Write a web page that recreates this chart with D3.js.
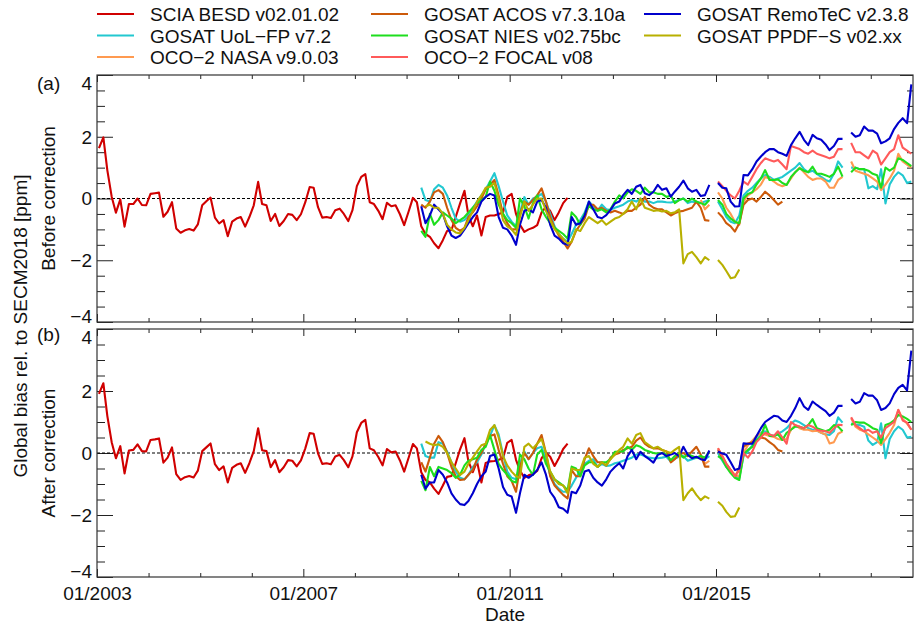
<!DOCTYPE html>
<html>
<head>
<meta charset="utf-8">
<script src="https://cdn.jsdelivr.net/npm/d3@7"></script>
<style>
body { margin: 0; background: #fff; }
svg text { font-family: "Liberation Sans", Arial, Helvetica, sans-serif; font-size: 19px; fill: #111; }
</style>
</head>
<body>
<svg id="chart" width="915" height="624"></svg>
<script>
// series names, colours and first month, in legend order
var seriesNames = ["SCIA BESD v02.01.02", "GOSAT UoL\u2212FP v7.2", "OCO\u22122 NASA v9.0.03",
                   "GOSAT ACOS v7.3.10a", "GOSAT NIES v02.75bc", "OCO\u22122 FOCAL v08",
                   "GOSAT RemoTeC v2.3.8", "GOSAT PPDF\u2212S v02.xx"];
var seriesColors = ["#d00000", "#22c8d0", "#ff9a50", "#cc5a0a", "#1ede1e", "#ff5a5a", "#0000cc", "#b8b000"];
var seriesStart = ["2003-01", "2009-04", "2014-09", "2009-04", "2009-04", "2015-01", "2009-04", "2009-05"];

var xTickLabels = ["01/2003", "01/2007", "01/2011", "01/2015"];
var yTickValues = [-4, -2, 0, 2, 4];

// monthly global bias [ppm], before correction (panel a)
var sciaBefore = [1.63, 1.98, 0.92, 0.06, -0.46, -0.03, -0.91, -0.18, -0.18, 0.0,
  -0.21, -0.22, 0.15, 0.17, 0.19, -0.59, -0.43, -0.12, -0.97, -1.11,
  -1.03, -0.99, -1.04, -0.84, -0.22, -0.08, 0.03, -0.62, -0.81, -0.70,
  -1.22, -0.75, -0.65, -0.60, -0.91, -0.60, -0.22, 0.54, -0.18, -0.22,
  -0.73, -0.50, -0.89, -0.73, -0.50, -0.53, -0.70, -0.51, -0.12, 0.37,
  0.35, -0.28, -0.62, -0.60, -0.63, -0.38, -0.33, -0.50, -0.73, -0.38,
  0.40, 0.70, 0.79, -0.12, -0.18, -0.40, -0.67, -0.14, -0.25, -0.22,
  -0.51, -0.86, -0.43, 0.02, -0.12, -0.9, -1.15, -1.24, -1.45, -1.61,
  -1.35, -1.05, -1.02, -0.6, -0.16, 0.25, -0.55, -0.9, -0.55, -1.2,
  -0.6, -0.55, -0.55, -0.5, -0.45, 0.05, 0.15, -0.5, -0.85, -1.08,
  -1.0, -0.95, -0.86, -0.45, -0.27, -0.4, -0.7, -0.45, -0.15, 0.02];
var uolBefore = [0.35, -0.05, -0.1, 0.3, 0.44, 0.35, 0.1, -0.3, -0.65, -0.75,
  -0.7, -0.55, -0.3, -0.1, 0.1, 0.3, 0.55, 0.82, 0.4, -0.1,
  -0.55, -0.75, -0.9, -0.45, 0.05, -0.2, 0.0, 0.05, 0.15, -0.1,
  -0.5, -0.9, -1.15, -1.3, -1.4, -1.15, -0.85, -0.7, -0.45, -0.1, -0.25, -0.4,
  -0.2, -0.35, -0.37, -0.3, -0.25, -0.2, -0.1, -0.05, -0.1, 0.0, -0.1, -0.1, -0.15,
  -0.1, -0.1, -0.12, -0.13, -0.1, -0.05, 0.0, -0.15, -0.1, -0.12, -0.15, -0.1, -0.05,
  null,
  -0.1, -0.35, -0.6, -0.75, -0.8, -0.55, 0.1, 0.25, 0.35, 0.5, 0.65, 0.76, 0.7, 0.6, 0.65,
  0.7, 0.8, 0.9, 1.0, 1.15, 0.95, 0.85, 0.9, 0.8, 0.7, 0.6, 0.55, 0.8, 1.2, 1.0,
  null,
  1.0, 1.0, 0.95, 0.95, 0.33, 0.4, 0.3, 0.95, -0.16, 0.45, 0.7, 0.85, 0.75, 0.5, 0.55];
var nasaBefore = [-0.05, -0.35, -0.2,
  null,
  0.2, 0.0, -0.3, -0.5, -0.75, -0.85, -0.1, 0.1, 0.2, 0.3, 0.45, 0.7, 0.65, 0.55, 0.45,
  0.4, 0.45, 0.65, 0.85, 1.0, 0.85, 0.7, 0.6, 0.65, 0.65, 0.55, 0.35, 0.35, 0.6, 0.7,
  null,
  1.2, 0.9, 0.85, 0.8, 0.75, 0.65, 0.55, 0.27, 0.45, 0.65, 0.9, 1.45, 1.2, 1.1, 1.0];
var acosBefore = [-0.2, -0.3, -0.1, 0.2, 0.27, 0.15, -0.3, -0.7, -0.95, -1.05,
  -0.95, -0.6, -0.45, -0.25, 0.0, 0.3, 0.45, 0.6, 0.1, -0.5,
  -0.8, -1.0, -1.0, -0.5, -0.1, -0.2, -0.05, 0.1, 0.33, -0.1,
  -0.6, -0.95, -1.2, -1.4, -1.62, -1.4, -1.05, -0.85, -0.65, -0.2, -0.2, -0.35,
  -0.3, -0.4, -0.45, -0.4, -0.45, -0.5, -0.4, -0.4, -0.3, -0.2, 0.05, -0.2, -0.3,
  -0.35, -0.35, -0.45, -0.55, -0.48, -0.42, -0.4, -0.35, -0.3, -0.1, -0.3, -0.7, -0.72,
  null,
  -0.45, -0.6, -0.8, -0.9, -1.07, -0.8, -0.2, -0.05, 0.0, -0.1, 0.05, 0.22, 0.1, -0.05, -0.2, -0.1];
var niesBefore = [-1.05, -1.24, -0.5, -0.85, -0.7, -0.45, -0.55, -0.65, -0.8, -0.7,
  -0.6, -0.45, -0.3, -0.15, -0.05, 0.05, 0.55, 0.25, -0.2, -0.5,
  -0.7, -0.8, -0.95, 0.0, -0.25, -0.65, -0.15, 0.1, -0.35, -0.6,
  -0.8, -0.95, -1.05, -1.15, -1.3, -0.45, -0.6, -0.85, -0.5, -0.25, -0.35, -0.4,
  -0.35, -0.45, -0.35, -0.1, 0.1, 0.0, 0.2, 0.3, 0.25, 0.15, 0.35, 0.2, 0.2,
  0.15, 0.15, 0.05, 0.1, -0.15, -0.05, 0.0, -0.1, 0.0, -0.1, -0.15, -0.2, -0.05,
  null,
  -0.05, -0.2, -0.5, -0.65, -0.75, -0.8, 0.0, 0.15, 0.2, 0.45, 0.65, 0.92, 0.6, 0.6, 0.62,
  0.5, 0.44, 0.7, 0.85, 0.98, 0.9, 0.85, 1.03, 0.8, 0.8, 0.75, 0.7, 0.8, 1.03, 0.71,
  null,
  0.85, 1.0, 0.95, 0.95, 0.9, 0.8, 0.75, 0.35, 1.0, 0.9, 1.0, 1.3, 1.25, 1.15, 1.05];
var focalBefore = [0.55, 0.4, 0.25, 0.1, 0.0, 0.25, 0.55, 0.45, 0.7, 0.95, 1.15, 1.3, 1.25, 1.2, 1.25,
  1.1, 0.95, 1.7, 1.65, 1.6, 1.5, 1.45, 1.55, 1.45, 1.4, 1.35, 1.3, 1.35, 1.6, 1.6,
  null,
  1.8, 1.5, 1.5, 1.4, 1.3, 1.55, 1.45, 1.1, 1.3, 1.5, 1.6, 2.05, 1.65, 1.55, 1.45];
var remotecBefore = [-0.25, -0.8, -0.55, -0.2, -0.35, -0.5, -0.9, -1.2, -1.28, -1.2,
  -1.0, -0.8, -0.6, -0.45, -0.1, 0.05, 0.15, 0.1, -0.6, -0.95,
  -1.0, -1.2, -1.5, -0.85, -0.4, -0.35, -0.45, -0.1, -0.05, -0.3,
  -0.85, -1.2, -1.3, -1.45, -1.5, -0.6, -0.85, -0.8, -0.55, -0.1, -0.35, -0.6,
  -0.64, -0.54, -0.37, -0.16, -0.1, 0.11, 0.28, 0.15, 0.38, 0.44, 0.17, 0.11, 0.22,
  0.44, 0.28, 0.33, 0.06, 0.22, 0.38, 0.58, 0.33, 0.22, 0.28, 0.08, 0.11, 0.44,
  null,
  0.5, 0.35, 0.33, -0.1, -0.26, -0.25, 0.76, 0.75, 0.95, 1.2, 1.36, 1.5, 1.6, 1.6, 1.5,
  1.45, 1.38, 1.73, 1.95, 2.16, 1.9, 1.73, 2.06, 1.95, 1.9, 1.75, 1.57, 1.7, 1.93, 1.93,
  null,
  2.14, 2.0, 2.05, 2.33, 2.2, 2.2, 2.1, 1.79, 1.85, 1.95, 2.25, 2.45, 2.6, 2.44, 3.7];
var ppdfBefore = [-0.25, -0.2, -0.3, -0.3, -0.5, -0.85, -1.0, -1.1, -1.13, -0.95,
  -0.7, -0.4, -0.1, 0.1, 0.35, 0.38, 0.5, 0.0, -0.7, -0.9,
  -1.0, -1.18, -0.6, -0.1, -0.4, -0.2, 0.0, 0.0, -0.4, -0.7,
  -1.0, -1.15, -1.3, -1.46, -1.4, -1.0, -1.05, -0.8, -0.6, -0.7, -0.8,
  -0.7, -0.85, -0.75, -0.65, -0.6, -0.5, -0.35, -0.1, -0.35, 0.0, -0.3, -0.35, -0.4,
  -0.38, -0.42, -0.4, -0.48, -0.45, -0.35, -2.1, -1.8, -1.73, -1.9, -2.1, -1.9, -2.0,
  null,
  -1.99, -2.15, -2.35, -2.58, -2.55, -2.3];

// monthly global bias [ppm], after correction (panel b)
var sciaAfter = [1.91, 2.25, 1.2, 0.35, -0.17, 0.22, -0.66, 0.08, 0.1, 0.28,
  0.06, 0.05, 0.42, 0.44, 0.47, -0.31, -0.15, 0.18, -0.68, -0.87,
  -0.78, -0.74, -0.79, -0.57, 0.06, 0.19, 0.31, -0.36, -0.55, -0.43,
  -0.95, -0.48, -0.38, -0.33, -0.64, -0.33, 0.06, 0.80, 0.09, 0.06,
  -0.46, -0.23, -0.62, -0.46, -0.23, -0.25, -0.43, -0.24, 0.15, 0.64,
  0.62, -0.01, -0.35, -0.33, -0.36, -0.11, -0.06, -0.23, -0.46, -0.11,
  0.67, 0.97, 1.07, 0.15, 0.09, -0.13, -0.40, 0.13, 0.02, 0.05,
  -0.24, -0.6, -0.16, 0.29, 0.15, -0.62, -0.87, -0.95, -1.15, -1.32,
  -1.05, -0.77, -0.74, -0.33, 0.12, 0.48, -0.27, -0.62, -0.27, -0.95,
  -0.32, -0.27, -0.26, -0.22, -0.17, 0.33, 0.42, -0.22, -0.57, -0.8,
  -0.72, -0.67, -0.58, -0.17, 0.01, -0.12, -0.42, -0.17, 0.13, 0.3];
var uolAfter = [0.3, -0.1, -0.15, -0.15, 0.35, 0.3, 0.05, -0.3, -0.6, -0.8,
  -0.85, -0.7, -0.45, -0.3, -0.05, 0.3, 0.55, 0.9, 0.6, -0.05,
  -0.6, -0.8, -0.85, -0.35, 0.05, -0.2, 0.0, 0.15, 0.2, -0.2,
  -0.7, -1.0, -1.15, -1.25, -1.25, -1.05, -0.8, -0.55, -0.35, -0.25, -0.2, -0.45,
  -0.35, -0.42, -0.4, -0.33, -0.3, -0.25, -0.2, -0.15, -0.05, -0.05, -0.1, -0.15, -0.17,
  -0.17, -0.15, -0.12, -0.28, -0.18, -0.12, -0.1, -0.25, -0.2, -0.15, -0.1, -0.2, -0.1,
  null,
  0.0, -0.25, -0.45, -0.6, -0.75, -0.8, -0.1, 0.05, 0.25, 0.5, 0.65, 0.7, 0.6, 0.55, 0.62,
  0.7, 0.8, 0.95, 1.05, 0.99, 0.9, 0.8, 0.75, 0.72, 0.65, 0.6, 0.58, 0.7, 1.15, 0.98,
  null,
  0.95, 0.92, 0.9, 0.85, 0.4, 0.26, 0.35, 0.96, -0.17, 0.45, 0.7, 0.85, 0.75, 0.5, 0.52];
var nasaAfter = [-0.1, -0.35, -0.25,
  null,
  0.15, -0.1, -0.35, -0.55, -0.7, -0.77, 0.0, 0.25, 0.4, 0.55, 0.63, 0.6, 0.55, 0.52, 0.45,
  0.42, 0.45, 0.75, 0.9, 0.8, 0.75, 0.75, 0.7, 0.72, 0.65, 0.6, 0.31, 0.35, 0.62, 0.7,
  null,
  1.12, 0.85, 0.75, 0.7, 0.6, 0.5, 0.4, 0.26, 0.45, 0.65, 0.9, 1.39, 1.1, 0.95, 0.75];
var acosAfter = [-0.3, -0.6, -0.15, 0.3, 0.55, 0.35, 0.0, -0.45, -0.75, -0.87,
  -0.85, -0.7, -0.55, -0.2, 0.0, 0.3, 0.55, 0.6, 0.1, -0.35,
  -0.75, -0.9, -1.25, -0.45, 0.0, -0.2, 0.0, 0.3, 0.58, 0.0,
  -0.75, -1.05, -1.2, -1.35, -1.47, -0.55, -0.75, -0.75, -0.2, 0.15, -0.1, -0.3,
  -0.3, -0.4, -0.15, -0.05, 0.0, 0.1, 0.15, 0.2, 0.4, 0.5, 0.3, 0.2, 0.15,
  0.15, 0.1, 0.05, -0.3, -0.2, -0.05, 0.0, -0.1, 0.05, 0.2, -0.05, -0.44, -0.44,
  null,
  0.1, -0.15, -0.35, -0.55, -0.77, -0.5, 0.2, 0.31, 0.35, 0.4, 0.5, 0.47, 0.35, 0.25, 0.1, 0.05];
var niesAfter = [-0.9, -1.2, -0.45, -0.75, -0.45, -0.5, -0.55, -0.65, -0.8, -0.7,
  -0.4, -0.25, -0.2, -0.15, 0.1, 0.2, 0.58, 0.1, -0.35, -0.55,
  -0.7, -0.9, -0.95, -0.05, -0.2, -0.5, -0.71, -0.05, 0.1, -0.35,
  -0.6, -0.85, -0.95, -1.05, -1.2, -0.44, -0.5, -0.75, -0.4, -0.3, -0.3, -0.45,
  -0.3, -0.3, -0.2, 0.04, 0.05, 0.05, 0.2, 0.1, 0.25, 0.2, 0.1, 0.05, 0.0,
  -0.02, 0.0, -0.05, -0.23, -0.1, 0.0, -0.15, -0.05, -0.1, -0.15, -0.1, -0.15, 0.05,
  null,
  -0.1, -0.2, -0.45, -0.65, -0.8, -0.87, -0.05, 0.1, 0.2, 0.4, 0.55, 0.91, 0.55, 0.55, 0.6,
  0.42, 0.65, 0.75, 0.85, 0.85, 0.8, 0.9, 1.09, 0.8, 0.75, 0.7, 0.75, 0.9, 0.85, 0.7,
  null,
  0.9, 1.0, 0.98, 0.98, 0.9, 0.8, 0.75, 0.32, 0.9, 0.95, 1.05, 1.23, 1.18, 1.1, 1.0];
var focalAfter = [0.15, -0.1, -0.35, -0.55, -0.75, -0.55, 0.0, -0.15, 0.05, 0.35, 0.5, 0.65, 0.6, 0.55, 0.7,
  0.5, 0.3, 1.0, 0.9, 0.85, 0.8, 0.9, 0.85, 0.75, 0.72, 0.7, 0.65, 0.8, 0.91, 0.9,
  null,
  1.15, 0.9, 0.8, 0.7, 0.75, 0.65, 0.7, 0.5, 0.8, 0.9, 1.0, 1.39, 1.05, 0.98, 0.75];
var remotecAfter = [-0.7, -1.15, -0.95, -0.95, -0.55, -0.7, -0.95, -1.3, -1.5, -1.65,
  -1.68, -1.55, -1.3, -1.0, -0.75, -0.6, -0.1, -0.05, -0.5, -1.1,
  -1.35, -1.4, -1.93, -1.3, -0.7, -0.8, -0.7, -0.55, -0.3, -0.7,
  -1.25, -1.45, -1.75, -1.8, -1.93, -1.25, -1.3, -1.05, -0.6, -0.55, -0.8, -0.95,
  -1.05, -0.85, -0.6, -0.45, -0.33, -0.5, -0.1, 0.1, -0.2, 0.04, -0.1, -0.2, -0.31,
  -0.06, 0.0, -0.1, -0.05, 0.0, -0.1, 0.2, -0.06, -0.17, -0.12, -0.2, -0.23, 0.08,
  null,
  0.05, -0.02, -0.06, -0.3, -0.55, -0.5, 0.31, 0.3, 0.3, 0.55, 0.8, 1.0, 1.1, 1.2, 1.18,
  1.05, 1.0, 1.2, 1.45, 1.77, 1.5, 1.39, 1.66, 1.55, 1.45, 1.35, 1.2, 1.3, 1.52, 1.52,
  null,
  1.74, 1.6, 1.65, 1.93, 1.85, 1.85, 1.7, 1.39, 1.45, 1.6, 1.9, 2.1, 2.2, 2.02, 3.3];
var ppdfAfter = [0.37, 0.3, 0.25, 0.28, 0.2, 0.0, -0.3, -0.5, -0.71, -0.6,
  -0.35, -0.15, 0.05, 0.25, 0.3, 0.74, 0.9, 0.5, -0.1, -0.4,
  -0.6, -0.75, -0.8, 0.2, 0.3, 0.15, 0.3, 0.45, 0.0, -0.6,
  -0.85, -1.0, -1.05, -1.3, -0.5, -0.55, -0.55, -0.15, -0.1, -0.35, -0.45,
  -0.3, -0.4, -0.2, -0.05, 0.1, 0.2, 0.47, 0.3, 0.58, 0.64, 0.35, 0.25, 0.15,
  0.2, 0.1, 0.05, 0.0, 0.1, 0.2, -1.52, -1.3, -1.14, -1.35, -1.52, -1.4, -1.47,
  null,
  -1.57, -1.7, -1.9, -2.06, -2.04, -1.76];

var before = [sciaBefore, uolBefore, nasaBefore, acosBefore, niesBefore, focalBefore, remotecBefore, ppdfBefore];
var after = [sciaAfter, uolAfter, nasaAfter, acosAfter, niesAfter, focalAfter, remotecAfter, ppdfAfter];

var parseMonth = d3.timeParse("%Y-%m");
var parseTick = d3.timeParse("%m/%Y");

// one point per month, placed mid-month
function toPoints(start, values) {
  var t0 = parseMonth(start);
  return values.map(function(v, i) {
    return {date: d3.timeDay.offset(d3.timeMonth.offset(t0, i), 14), v: v};
  });
}

function minus(d) { return d < 0 ? "\u2212" + Math.abs(d) : "" + d; }

var svg = d3.select("#chart");
var left = 97, right = 913;
var x = d3.scaleTime()
    .domain([new Date(2003, 0, 1), new Date(2018, 9, 27)])
    .range([left, right]);

var xMajor = xTickLabels.map(parseTick);
var xMinor = d3.timeYear.range(new Date(2003, 0, 1), new Date(2018, 11, 31))
    .filter(function(d) { return (d.getFullYear() - 2003) % 4 !== 0; });
var yMinor = d3.range(-4, 4.01, 0.5).filter(function(d) { return d % 2 !== 0; });

var panels = [
  {key: "a", label: "(a)", title: "Before correction", top: 75, bottom: 322, series: before, labelY: 90},
  {key: "b", label: "(b)", title: "After correction", top: 329, bottom: 577, series: after, labelY: 341}
];

panels.forEach(function(p, pi) {
  var y = d3.scaleLinear().domain([-4, 4]).range([p.bottom, p.top]);
  var g = svg.append("g");

  g.append("clipPath").attr("id", "clip-" + p.key)
    .append("rect")
    .attr("x", left).attr("y", p.top)
    .attr("width", right - left).attr("height", p.bottom - p.top);

  function tidy(sel) {
    sel.select(".domain").remove();
    sel.attr("font-size", 19)
      .attr("font-family", "'Liberation Sans', Arial, Helvetica, sans-serif")
      .attr("color", "#222");
    sel.selectAll(".tick line").attr("stroke-width", 1);
  }

  // y ticks, left (with labels) and right
  g.append("g").attr("transform", "translate(" + left + ",0)")
    .call(d3.axisLeft(y).tickValues(yTickValues).tickSize(-16).tickPadding(5).tickFormat(minus))
    .call(tidy)
    .selectAll("text")
    .attr("dy", function(d) { return d === 4 ? "0.74em" : d === -4 ? "0.03em" : "0.34em"; });
  g.append("g").attr("transform", "translate(" + left + ",0)")
    .call(d3.axisLeft(y).tickValues(yMinor).tickSize(-8).tickFormat(""))
    .call(tidy);
  g.append("g").attr("transform", "translate(" + right + ",0)")
    .call(d3.axisRight(y).tickValues(yTickValues).tickSize(-13).tickFormat(""))
    .call(tidy);
  g.append("g").attr("transform", "translate(" + right + ",0)")
    .call(d3.axisRight(y).tickValues(yMinor).tickSize(-6).tickFormat(""))
    .call(tidy);

  // x ticks, top and bottom
  g.append("g").attr("transform", "translate(0," + p.top + ")")
    .call(d3.axisTop(x).tickValues(xMajor).tickSize(-7).tickFormat(""))
    .call(tidy);
  g.append("g").attr("transform", "translate(0," + p.top + ")")
    .call(d3.axisTop(x).tickValues(xMinor).tickSize(-4).tickFormat(""))
    .call(tidy);
  g.append("g").attr("transform", "translate(0," + p.bottom + ")")
    .call(d3.axisBottom(x).tickValues(xMajor).tickSize(-8).tickPadding(10)
      .tickFormat(pi === 1 ? d3.timeFormat("%m/%Y") : ""))
    .call(tidy);
  g.append("g").attr("transform", "translate(0," + p.bottom + ")")
    .call(d3.axisBottom(x).tickValues(xMinor).tickSize(-4).tickFormat(""))
    .call(tidy);

  // zero line
  g.append("line")
    .attr("x1", left).attr("x2", right)
    .attr("y1", y(0)).attr("y2", y(0))
    .attr("stroke", "#000").attr("stroke-width", 1.1)
    .attr("stroke-dasharray", "3,2");

  var line = d3.line()
    .defined(function(d) { return d.v != null; })
    .x(function(d) { return x(d.date); })
    .y(function(d) { return y(d.v); });

  var lines = g.append("g").attr("clip-path", "url(#clip-" + p.key + ")");
  p.series.forEach(function(vals, i) {
    lines.append("path")
      .datum(toPoints(seriesStart[i], vals))
      .attr("fill", "none")
      .attr("stroke", seriesColors[i])
      .attr("stroke-width", 2.1)
      .attr("stroke-linejoin", "round")
      .attr("d", line);
  });

  // frame
  g.append("rect")
    .attr("x", left).attr("y", p.top)
    .attr("width", right - left).attr("height", p.bottom - p.top)
    .attr("fill", "none").attr("stroke", "#333").attr("stroke-width", 1.2);

  svg.append("text")
    .attr("x", 37).attr("y", p.labelY)
    .text(p.label);
  svg.append("text")
    .attr("transform", "translate(55," + ((p.top + p.bottom) / 2) + ") rotate(-90)")
    .attr("text-anchor", "middle")
    .text(p.title);
});

svg.append("text")
  .attr("transform", "translate(27,326) rotate(-90)")
  .attr("text-anchor", "middle")
  .text("Global bias rel. to SECM2018 [ppm]");

svg.append("text")
  .attr("x", (left + right) / 2).attr("y", 621)
  .attr("text-anchor", "middle")
  .text("Date");

// legend, three columns filled top to bottom
var legendX = [97, 371, 644], legendY = [14, 35.5, 57];
var legend = svg.append("g");
seriesNames.forEach(function(name, i) {
  var cx = legendX[Math.floor(i / 3)], cy = legendY[i % 3];
  legend.append("line")
    .attr("x1", cx).attr("x2", cx + 37)
    .attr("y1", cy).attr("y2", cy)
    .attr("stroke", seriesColors[i]).attr("stroke-width", 2.2);
  legend.append("text")
    .attr("x", cx + 53).attr("y", cy + 7)
    .text(name);
});
</script>
</body>
</html>
